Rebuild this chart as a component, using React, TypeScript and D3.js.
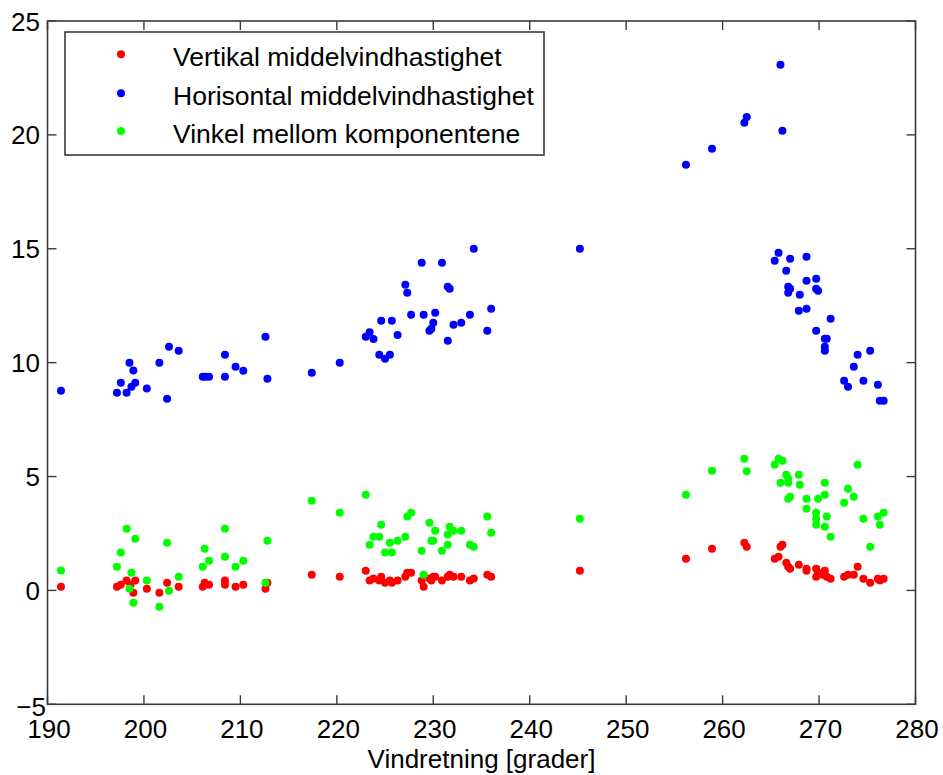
import React from "react";
import * as d3 from "d3";

// Vindretning [grader] and values, read per series
const vertikalDir = [191.4,197.2,197.6,198.2,198.6,199.1,198.9,200.3,201.6,202.4,203.6,206.1,206.3,206.75,208.4,208.4,209.5,210.3,212.6,212.8,217.4,
  220.3,223.0,223.4,223.8,224.4,224.6,225.0,225.7,225.5,226.3,227.1,227.3,227.7,228.8,229.0,229.6,229.8,230.0,230.2,230.9,231.5,231.7,232.1,232.9,233.8,234.2,235.6,236.0,
  245.2,256.2,258.9,
  262.25,262.5,266.0,266.2,265.4,265.8,266.6,266.8,267.0,267.9,268.7,268.7,269.7,269.9,269.7,270.4,270.6,270.8,271.2,272.6,273.0,273.6,274.0,274.6,275.3,276.1,276.7,276.3];
const vertikalVal = [0.16,0.16,0.25,0.43,0.25,0.43,-0.1,0.07,-0.1,0.34,0.16,0.16,0.34,0.25,0.43,0.25,0.16,0.25,0.07,0.34,0.69,
  0.6,0.86,0.43,0.52,0.43,0.6,0.34,0.34,0.43,0.43,0.6,0.78,0.78,0.43,0.16,0.52,0.43,0.6,0.6,0.43,0.6,0.69,0.6,0.6,0.43,0.52,0.69,0.6,
  0.86,1.39,1.83,
  2.09,1.92,1.92,2.0,1.39,1.48,1.22,1.04,0.95,1.13,0.95,0.86,0.95,0.78,0.6,0.69,0.86,0.6,0.51,0.6,0.69,0.69,1.04,0.51,0.34,0.51,0.51,0.43];

const horisontalDir = [191.4,197.2,197.6,198.2,198.5,198.7,198.9,199.1,200.3,201.6,202.4,202.6,203.6,206.1,206.4,206.75,208.4,208.4,209.5,210.3,212.6,212.8,217.4,
  220.3,223.0,223.4,223.8,224.4,225.0,225.5,224.6,225.7,226.3,227.1,227.3,227.7,228.8,229.0,229.6,229.8,230.0,230.2,230.9,231.5,231.7,231.5,232.1,232.9,233.8,234.2,235.6,236.0,
  245.2,
  256.2,258.9,262.25,262.5,266.0,266.2,265.8,265.4,267.0,268.7,266.6,268.7,269.7,266.8,267.0,266.8,268.0,269.7,269.9,267.9,268.7,271.2,269.7,270.6,270.8,270.6,270.6,275.3,274.0,273.6,272.6,273.0,274.6,276.1,276.3,276.7];
const horisontalVal = [8.77,8.68,9.12,8.68,10.0,8.94,9.65,9.12,8.86,10.0,8.42,10.7,10.52,9.38,9.38,9.38,10.35,9.38,9.82,9.64,11.14,9.29,9.56,
  10.0,11.14,11.34,11.04,10.35,10.17,10.35,11.84,11.84,11.21,13.42,13.07,12.1,14.39,12.1,11.4,11.49,11.75,12.19,14.39,13.33,13.24,10.96,11.66,11.75,12.1,15.0,11.4,12.37,
  15.0,
  18.69,19.39,20.53,20.79,23.08,20.18,14.82,14.47,14.56,14.65,14.03,13.6,13.68,13.33,13.24,13.07,12.98,13.24,13.16,12.28,12.37,11.93,11.4,11.05,11.05,10.7,10.52,10.52,10.35,9.82,9.2,8.94,9.2,9.03,8.33,8.33];

const vinkelDir = [191.4,197.2,197.6,198.2,198.7,198.5,198.9,199.1,200.3,201.6,202.4,202.6,203.6,206.1,206.3,206.75,208.4,208.4,209.5,210.3,212.8,212.6,217.4,
  220.3,223.0,223.4,223.8,224.4,224.6,225.0,225.7,225.5,226.3,227.1,227.3,227.7,228.8,229.0,229.6,229.8,230.0,230.2,230.9,231.5,231.5,231.7,232.1,232.9,233.8,234.2,235.6,236.0,
  245.2,256.2,
  258.9,262.25,262.5,265.4,265.8,266.2,266.6,266.8,266.0,266.8,267.9,268.0,266.8,267.0,268.7,268.7,269.9,270.6,270.6,269.7,269.7,269.7,270.8,270.6,271.2,272.6,273.0,273.6,274.0,274.6,275.3,276.1,276.7,276.3];
const vinkelVal = [0.87,1.04,1.66,2.71,0.78,0.07,-0.54,2.27,0.43,-0.72,2.09,-0.01,0.6,1.04,1.83,1.3,2.71,1.48,1.04,1.3,2.18,0.34,3.94,
  3.41,4.2,2.0,2.36,2.36,2.88,1.66,1.66,2.09,2.18,2.36,3.24,3.41,1.74,0.69,2.97,2.18,2.18,2.62,1.74,2.0,2.45,2.8,2.62,2.62,2.0,1.92,3.24,2.53,
  3.15,4.2,
  5.25,5.78,5.23,5.52,5.78,5.69,5.08,4.9,4.73,4.73,5.08,4.64,4.03,4.11,4.03,3.59,4.03,4.2,4.73,3.41,3.15,2.88,3.24,2.8,2.36,3.85,4.46,4.11,5.52,3.15,1.92,3.24,3.41,2.88];

const xTicks = [190, 200, 210, 220, 230, 240, 250, 260, 270, 280];
const yTicks = [-5, 0, 5, 10, 15, 20, 25];
const seriesNames = ["Vertikal middelvindhastighet", "Horisontal middelvindhastighet", "Vinkel mellom komponentene"];
const seriesColors = ["#ff0000", "#0000ff", "#00ff00"];
const xLabel = "Vindretning [grader]";

const W = 943, H = 775;
const L = 47.5, R = 915.5, T = 21, B = 704.3;
const FONT = "'Liberation Sans', Arial, sans-serif";

export default function App() {
  const x = d3.scaleLinear().domain([190, 280]).range([L, R]);
  const y = d3.scaleLinear().domain([-5, 25]).range([B, T]);
  const series = [
    { dir: vertikalDir, val: vertikalVal },
    { dir: horisontalDir, val: horisontalVal },
    { dir: vinkelDir, val: vinkelVal },
  ];
  const axisColor = "#3a3a3a";
  const tickLen = 9;
  const legendX = 65, legendY = 32, legendW = 479, legendH = 123;
  const legendRows = [54.3, 93.3, 131];
  return (
    <svg width={W} height={H} style={{ position: "absolute", left: 0, top: 0, background: "#fff" }} fontFamily={FONT}>
      <rect x={0} y={0} width={W} height={H} fill="#fff" />
      {series.map((s, si) => (
        <g key={si} fill={seriesColors[si]}>
          {s.dir.map((d, i) => (
            <circle key={i} cx={x(d)} cy={y(s.val[i])} r={4} />
          ))}
        </g>
      ))}
      <rect x={L} y={T} width={R - L} height={B - T} fill="none" stroke={axisColor} strokeWidth={1.6} />
      {xTicks.map((t) => (
        <g key={"x" + t}>
          <line x1={x(t)} x2={x(t)} y1={B} y2={B - tickLen} stroke={axisColor} strokeWidth={1.4} />
          <line x1={x(t)} x2={x(t)} y1={T} y2={T + tickLen} stroke={axisColor} strokeWidth={1.4} />
          <text x={x(t) + 1.5} y={738} fontSize={26} textAnchor="middle" fill="#000">{t}</text>
        </g>
      ))}
      {yTicks.map((t) => (
        <g key={"y" + t}>
          <line x1={L} x2={L + tickLen} y1={y(t)} y2={y(t)} stroke={axisColor} strokeWidth={1.4} />
          <line x1={R} x2={R - tickLen} y1={y(t)} y2={y(t)} stroke={axisColor} strokeWidth={1.4} />
          <text x={t === -5 ? 46 : 40} y={y(t) + (t === -5 ? 12 : 9.5)} fontSize={26} textAnchor="end" fill="#000">{t < 0 ? "\u2212" + Math.abs(t) : t}</text>
        </g>
      ))}
      <text x={(L + R) / 2} y={768} fontSize={26} textAnchor="middle" fill="#000">{xLabel}</text>
      <rect x={legendX} y={legendY} width={legendW} height={legendH} fill="#fff" stroke={axisColor} strokeWidth={1.6} />
      {seriesNames.map((n, i) => (
        <g key={n}>
          <circle cx={121} cy={legendRows[i]} r={4} fill={seriesColors[i]} />
          <text x={173} y={legendRows[i] + 12} fontSize={26.5} fill="#000">{n}</text>
        </g>
      ))}
    </svg>
  );
}
